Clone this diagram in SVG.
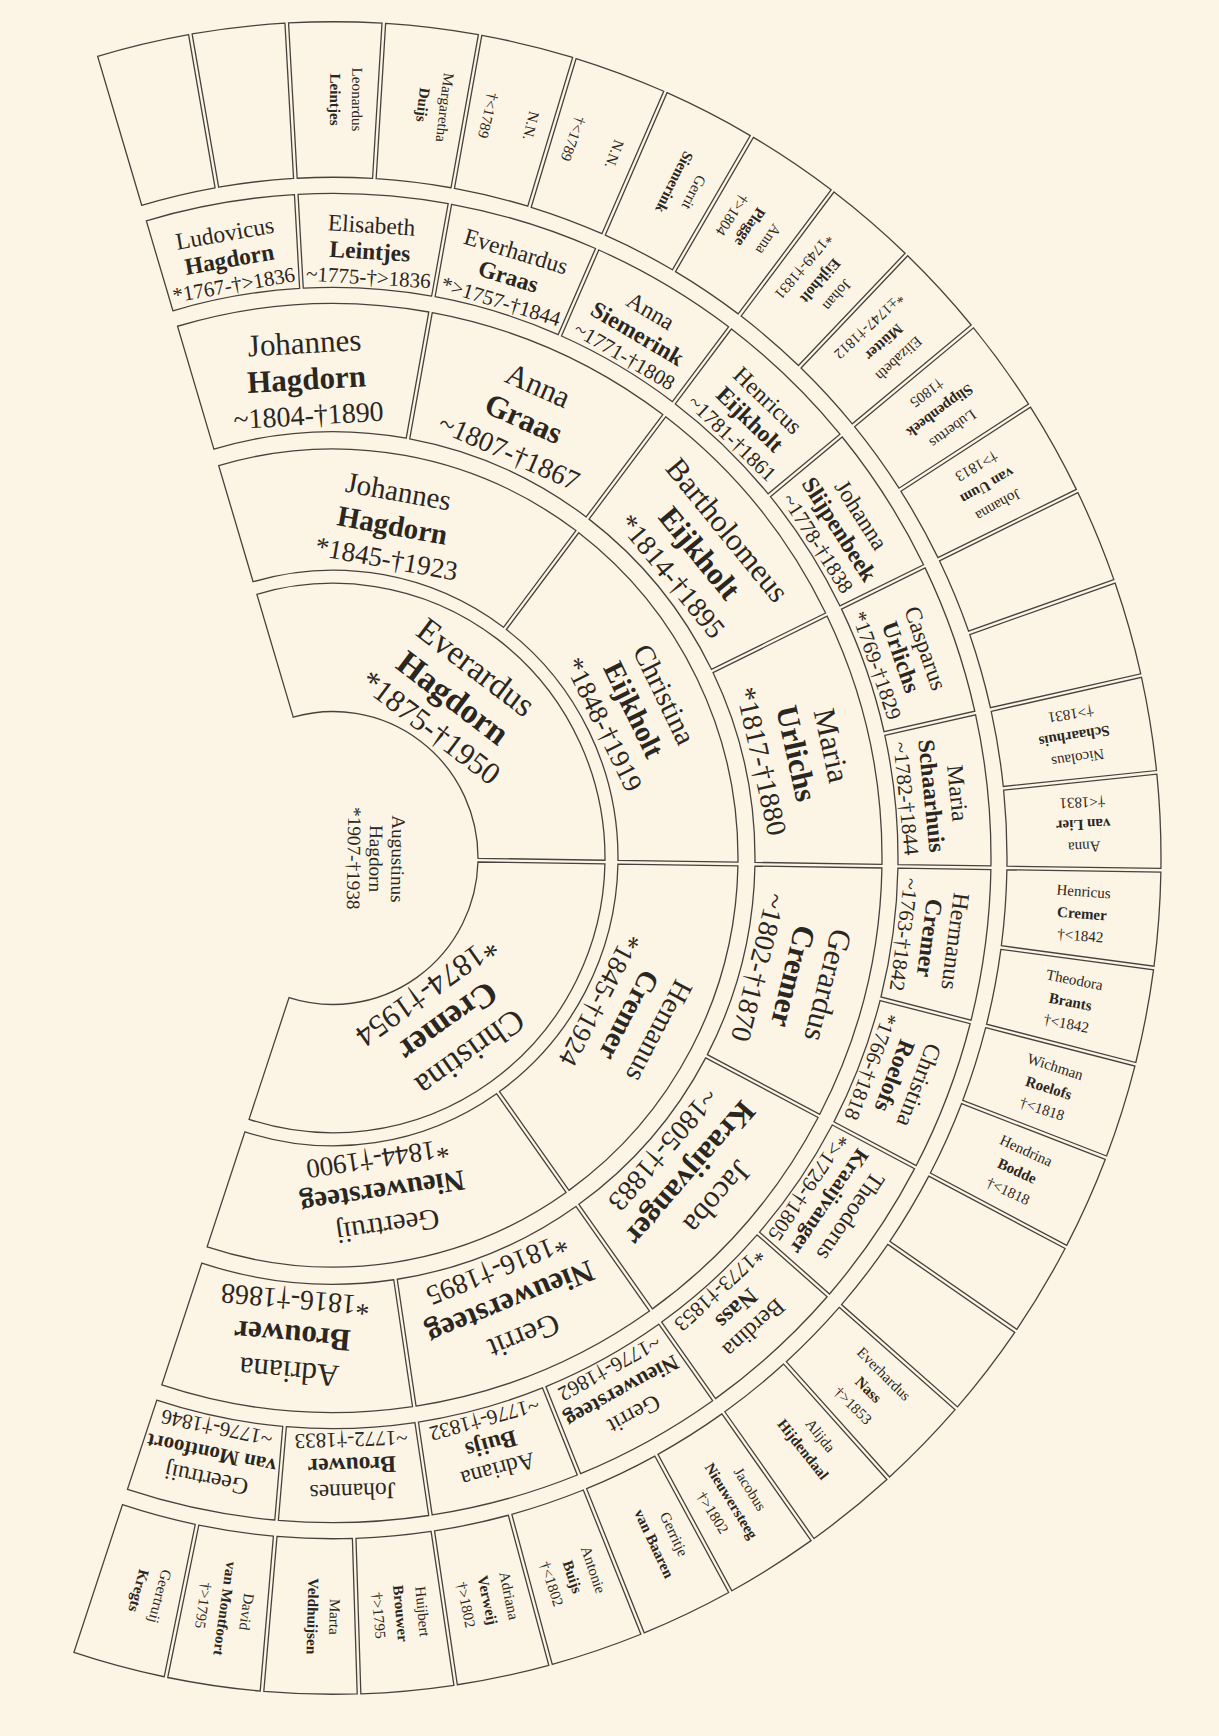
<svg xmlns="http://www.w3.org/2000/svg" width="1219" height="1736" viewBox="0 0 1219 1736">
<style>
.bg{fill:#fcf4e4}
.s{fill:none;stroke:#47423d;stroke-width:1.3}
text{font-family:"Liberation Serif","Times New Roman",serif;fill:#2a2622;text-anchor:middle;dominant-baseline:central}
.b{font-weight:bold}
.f0{font-size:19px}
.f1{font-size:34px}.d1{font-size:31px}
.f2{font-size:29px}.d2{font-size:27px}
.f3{font-size:31px}.d3{font-size:28px}
.f4{font-size:23.5px}.d4{font-size:21px}
.f5{font-size:15px}
</style>
<defs>
<path id="s1" d="M87.19,-115.86 L162.29,-218.29 A272,272 0 0 1 162.29,218.29 L87.19,115.86 A145,145 0 0 0 87.19,-115.86Z"/>
<path id="s2" d="M255.03,-127.22 L362.07,-181.47 A405,405 0 0 1 362.07,181.47 L255.03,127.22 A285,285 0 0 0 255.03,-127.22Z"/>
<path id="s3" d="M410.86,-96.31 L534.39,-125.83 A549,549 0 0 1 534.39,125.83 L410.86,96.31 A422,422 0 0 0 410.86,-96.31Z"/>
<path id="s4" d="M561.33,-64.31 L653.69,-75.20 A658,658 0 0 1 653.69,75.20 L561.33,64.31 A565,565 0 0 0 561.33,-64.31Z"/>
<path id="s5" d="M672.95,-37.70 L826.68,-46.72 A828,828 0 0 1 826.68,46.72 L672.95,37.70 A674,674 0 0 0 672.95,-37.70Z"/>
</defs>
<rect class="bg" x="0" y="0" width="1219" height="1736"/>
<g id="chart" transform="translate(333,858) rotate(0.85) scale(1,1.01)">

<g id="n0"><g transform="translate(43,0) rotate(90)"><text class="f0" y="-22">Augustinus</text><text class="f0">Hagdorn</text><text class="f0" y="22">*1907-†1938</text></g></g>

<g id="n1-0" transform="rotate(-53.75)"><use href="#s1" class="s"/><g transform="translate(199,0) rotate(90)"><text class="f1" y="-38">Everardus</text><text class="f1 b">Hagdorn</text><text class="d1" y="37">*1875-†1950</text></g></g>
<g id="n1-1" transform="rotate(53.75)"><use href="#s1" class="s"/><g transform="translate(199,0) rotate(90)"><text class="f1" y="-38">Christina</text><text class="f1 b">Cremer</text><text class="d1" y="37">*1874-†1954</text></g></g>

<g id="n2-0" transform="rotate(-80.63)"><use href="#s2" class="s"/><g transform="translate(335,0) rotate(90)"><text class="f2" y="-34">Johannes</text><text class="f2 b">Hagdorn</text><text class="d2" y="34">*1845-†1923</text></g></g>
<g id="n2-1" transform="rotate(-26.88)"><use href="#s2" class="s"/><g transform="translate(335,0) rotate(90)"><text class="f2" y="-34">Christina</text><text class="f2 b">Eijkholt</text><text class="d2" y="34">*1848-†1919</text></g></g>
<g id="n2-2" transform="rotate(26.88)"><use href="#s2" class="s"/><g transform="translate(335,0) rotate(90)"><text class="f2" y="-34">Hemanus</text><text class="f2 b">Cremer</text><text class="d2" y="34">*1845-†1924</text></g></g>
<g id="n2-3" transform="rotate(80.63)"><use href="#s2" class="s"/><g transform="translate(335,0) rotate(90)"><text class="f2" y="-34">Geertruij</text><text class="f2 b">Nieuwersteeg</text><text class="d2" y="34">*1844-†1900</text></g></g>

<g id="n3-0" transform="rotate(-94.06)"><use href="#s3" class="s"/><g transform="translate(475,0) rotate(90)"><text class="f3" y="-36">Johannes</text><text class="f3 b">Hagdorn</text><text class="d3" y="36">~1804-†1890</text></g></g>
<g id="n3-1" transform="rotate(-67.19)"><use href="#s3" class="s"/><g transform="translate(475,0) rotate(90)"><text class="f3" y="-36">Anna</text><text class="f3 b">Graas</text><text class="d3" y="36">~1807-†1867</text></g></g>
<g id="n3-2" transform="rotate(-40.31)"><use href="#s3" class="s"/><g transform="translate(475,0) rotate(90)"><text class="f3" y="-36">Bartholomeus</text><text class="f3 b">Eijkholt</text><text class="d3" y="36">*1814-†1895</text></g></g>
<g id="n3-3" transform="rotate(-13.44)"><use href="#s3" class="s"/><g transform="translate(475,0) rotate(90)"><text class="f3" y="-36">Maria</text><text class="f3 b">Urlichs</text><text class="d3" y="36">*1817-†1880</text></g></g>
<g id="n3-4" transform="rotate(13.44)"><use href="#s3" class="s"/><g transform="translate(475,0) rotate(90)"><text class="f3" y="-36">Gerardus</text><text class="f3 b">Cremer</text><text class="d3" y="36">~1802-†1870</text></g></g>
<g id="n3-5" transform="rotate(40.31)"><use href="#s3" class="s"/><g transform="translate(475,0) rotate(90)"><text class="f3" y="-36">Jacoba</text><text class="f3 b">Kraaijvanger</text><text class="d3" y="36">~1805-†1883</text></g></g>
<g id="n3-6" transform="rotate(67.19)"><use href="#s3" class="s"/><g transform="translate(475,0) rotate(90)"><text class="f3" y="-36">Gerrit</text><text class="f3 b">Nieuwersteeg</text><text class="d3" y="36">*1816-†1895</text></g></g>
<g id="n3-7" transform="rotate(94.06)"><use href="#s3" class="s"/><g transform="translate(475,0) rotate(90)"><text class="f3" y="-36">Adriana</text><text class="f3 b">Brouwer</text><text class="d3" y="36">*1816-†1868</text></g></g>

<g id="n4-0" transform="rotate(-100.78)"><use href="#s4" class="s"/><g transform="translate(602,0) rotate(90)"><text class="f4" y="-26">Ludovicus</text><text class="f4 b">Hagdorn</text><text class="d4" y="26">*1767-†&gt;1836</text></g></g>
<g id="n4-1" transform="rotate(-87.34)"><use href="#s4" class="s"/><g transform="translate(602,0) rotate(90)"><text class="f4" y="-26">Elisabeth</text><text class="f4 b">Leintjes</text><text class="d4" y="26">~1775-†&gt;1836</text></g></g>
<g id="n4-2" transform="rotate(-73.91)"><use href="#s4" class="s"/><g transform="translate(602,0) rotate(90)"><text class="f4" y="-26">Everhardus</text><text class="f4 b">Graas</text><text class="d4" y="26">*&gt;1757-†1844</text></g></g>
<g id="n4-3" transform="rotate(-60.47)"><use href="#s4" class="s"/><g transform="translate(602,0) rotate(90)"><text class="f4" y="-26">Anna</text><text class="f4 b">Siemerink</text><text class="d4" y="26">~1771-†1808</text></g></g>
<g id="n4-4" transform="rotate(-47.03)"><use href="#s4" class="s"/><g transform="translate(602,0) rotate(90)"><text class="f4" y="-26">Henricus</text><text class="f4 b">Eijkholt</text><text class="d4" y="26">~1781-†1861</text></g></g>
<g id="n4-5" transform="rotate(-33.59)"><use href="#s4" class="s"/><g transform="translate(602,0) rotate(90)"><text class="f4" y="-26">Johanna</text><text class="f4 b">Slijpenbeek</text><text class="d4" y="26">~1778-†1838</text></g></g>
<g id="n4-6" transform="rotate(-20.16)"><use href="#s4" class="s"/><g transform="translate(602,0) rotate(90)"><text class="f4" y="-26">Casparus</text><text class="f4 b">Urlichs</text><text class="d4" y="26">*1769-†1829</text></g></g>
<g id="n4-7" transform="rotate(-6.72)"><use href="#s4" class="s"/><g transform="translate(602,0) rotate(90)"><text class="f4" y="-26">Maria</text><text class="f4 b">Schaarhuis</text><text class="d4" y="26">~1782-†1844</text></g></g>
<g id="n4-8" transform="rotate(6.72)"><use href="#s4" class="s"/><g transform="translate(602,0) rotate(90)"><text class="f4" y="-26">Hermanus</text><text class="f4 b">Cremer</text><text class="d4" y="26">~1763-†1842</text></g></g>
<g id="n4-9" transform="rotate(20.16)"><use href="#s4" class="s"/><g transform="translate(602,0) rotate(90)"><text class="f4" y="-26">Christina</text><text class="f4 b">Roelofs</text><text class="d4" y="26">*1766-†1818</text></g></g>
<g id="n4-10" transform="rotate(33.59)"><use href="#s4" class="s"/><g transform="translate(602,0) rotate(90)"><text class="f4" y="-26">Theodorus</text><text class="f4 b" style="font-size:21px">Kraaijvanger</text><text class="d4" y="26">*&gt;1729-†1805</text></g></g>
<g id="n4-11" transform="rotate(47.03)"><use href="#s4" class="s"/><g transform="translate(602,0) rotate(90)"><text class="f4" y="-26">Berdina</text><text class="f4 b">Nass</text><text class="d4" y="26">*1773-†1853</text></g></g>
<g id="n4-12" transform="rotate(60.47)"><use href="#s4" class="s"/><g transform="translate(602,0) rotate(90)"><text class="f4" y="-26">Gerrit</text><text class="f4 b" style="font-size:22px">Nieuwersteeg</text><text class="d4" y="26">~1776-†1862</text></g></g>
<g id="n4-13" transform="rotate(73.91)"><use href="#s4" class="s"/><g transform="translate(602,0) rotate(90)"><text class="f4" y="-26">Adriana</text><text class="f4 b">Buijs</text><text class="d4" y="26">~1776-†1832</text></g></g>
<g id="n4-14" transform="rotate(87.34)"><use href="#s4" class="s"/><g transform="translate(602,0) rotate(90)"><text class="f4" y="-26">Johannes</text><text class="f4 b">Brouwer</text><text class="d4" y="26">~1772-†1833</text></g></g>
<g id="n4-15" transform="rotate(100.78)"><use href="#s4" class="s"/><g transform="translate(602,0) rotate(90)"><text class="f4" y="-26">Geertruij</text><text class="f4 b" style="font-size:21px">van Montfoort</text><text class="d4" y="26">~1776-†1846</text></g></g>

<g id="n5-0" transform="rotate(-104.14)"><use href="#s5" class="s"/></g>
<g id="n5-1" transform="rotate(-97.42)"><use href="#s5" class="s"/></g>
<g id="n5-2" transform="rotate(-90.70)"><use href="#s5" class="s"/><g transform="translate(751,0) rotate(180)"><text class="f5" y="-22">Leonardus</text><text class="f5 b">Leintjes</text></g></g>
<g id="n5-3" transform="rotate(-83.98)"><use href="#s5" class="s"/><g transform="translate(751,0) rotate(180)"><text class="f5" y="-22">Margaretha</text><text class="f5 b">Duijs</text></g></g>
<g id="n5-4" transform="rotate(-77.27)"><use href="#s5" class="s"/><g transform="translate(751,0) rotate(180)"><text class="f5" y="-22">N.N.</text><text class="f5" y="22">†&lt;1789</text></g></g>
<g id="n5-5" transform="rotate(-70.55)"><use href="#s5" class="s"/><g transform="translate(751,0) rotate(180)"><text class="f5" y="-22">N.N.</text><text class="f5" y="22">†&lt;1789</text></g></g>
<g id="n5-6" transform="rotate(-63.83)"><use href="#s5" class="s"/><g transform="translate(751,0) rotate(180)"><text class="f5" y="-22">Gerrit</text><text class="f5 b">Siemerink</text></g></g>
<g id="n5-7" transform="rotate(-57.11)"><use href="#s5" class="s"/><g transform="translate(751,0) rotate(180)"><text class="f5" y="-22">Anna</text><text class="f5 b">Plagge</text><text class="f5" y="22">†&gt;1804</text></g></g>
<g id="n5-8" transform="rotate(-50.39)"><use href="#s5" class="s"/><g transform="translate(751,0) rotate(180)"><text class="f5" y="-22">Johan</text><text class="f5 b">Eijkholt</text><text class="f5" y="22">*1749-†1831</text></g></g>
<g id="n5-9" transform="rotate(-43.67)"><use href="#s5" class="s"/><g transform="translate(751,0) rotate(180)"><text class="f5" y="-22">Elizabeth</text><text class="f5 b">Mütter</text><text class="f5" y="22">*±1747-†1812</text></g></g>
<g id="n5-10" transform="rotate(-36.95)"><use href="#s5" class="s"/><g transform="translate(751,0) rotate(180)"><text class="f5" y="-22">Lubertus</text><text class="f5 b">Slippenbeek</text><text class="f5" y="22">†1805</text></g></g>
<g id="n5-11" transform="rotate(-30.23)"><use href="#s5" class="s"/><g transform="translate(751,0) rotate(180)"><text class="f5" y="-22">Johanna</text><text class="f5 b">van Uum</text><text class="f5" y="22">†&gt;1813</text></g></g>
<g id="n5-12" transform="rotate(-23.52)"><use href="#s5" class="s"/></g>
<g id="n5-13" transform="rotate(-16.80)"><use href="#s5" class="s"/></g>
<g id="n5-14" transform="rotate(-10.08)"><use href="#s5" class="s"/><g transform="translate(751,0) rotate(180)"><text class="f5" y="-22">Nicolaus</text><text class="f5 b">Schaarhuis</text><text class="f5" y="22">†&gt;1831</text></g></g>
<g id="n5-15" transform="rotate(-3.36)"><use href="#s5" class="s"/><g transform="translate(751,0) rotate(180)"><text class="f5" y="-22">Anna</text><text class="f5 b">van Lier</text><text class="f5" y="22">†&lt;1831</text></g></g>
<g id="n5-16" transform="rotate(3.36)"><use href="#s5" class="s"/><g transform="translate(751,0)"><text class="f5" y="-22">Henricus</text><text class="f5 b">Cremer</text><text class="f5" y="22">†&lt;1842</text></g></g>
<g id="n5-17" transform="rotate(10.08)"><use href="#s5" class="s"/><g transform="translate(751,0)"><text class="f5" y="-22">Theodora</text><text class="f5 b">Brants</text><text class="f5" y="22">†&lt;1842</text></g></g>
<g id="n5-18" transform="rotate(16.80)"><use href="#s5" class="s"/><g transform="translate(751,0)"><text class="f5" y="-22">Wichman</text><text class="f5 b">Roelofs</text><text class="f5" y="22">†&lt;1818</text></g></g>
<g id="n5-19" transform="rotate(23.52)"><use href="#s5" class="s"/><g transform="translate(751,0)"><text class="f5" y="-22">Hendrina</text><text class="f5 b">Bodde</text><text class="f5" y="22">†&lt;1818</text></g></g>
<g id="n5-20" transform="rotate(30.23)"><use href="#s5" class="s"/></g>
<g id="n5-21" transform="rotate(36.95)"><use href="#s5" class="s"/></g>
<g id="n5-22" transform="rotate(43.67)"><use href="#s5" class="s"/><g transform="translate(751,0)"><text class="f5" y="-22">Everhardus</text><text class="f5 b">Nass</text><text class="f5" y="22">†&gt;1853</text></g></g>
<g id="n5-23" transform="rotate(50.39)"><use href="#s5" class="s"/><g transform="translate(751,0)"><text class="f5" y="-22">Alijda</text><text class="f5 b">Hijdendaal</text></g></g>
<g id="n5-24" transform="rotate(57.11)"><use href="#s5" class="s"/><g transform="translate(751,0)"><text class="f5" y="-22">Jacobus</text><text class="f5 b">Nieuwersteeg</text><text class="f5" y="22">†&gt;1802</text></g></g>
<g id="n5-25" transform="rotate(63.83)"><use href="#s5" class="s"/><g transform="translate(751,0)"><text class="f5" y="-22">Gerritje</text><text class="f5 b">van Baaren</text></g></g>
<g id="n5-26" transform="rotate(70.55)"><use href="#s5" class="s"/><g transform="translate(751,0)"><text class="f5" y="-22">Antonie</text><text class="f5 b">Buijs</text><text class="f5" y="22">†&lt;1802</text></g></g>
<g id="n5-27" transform="rotate(77.27)"><use href="#s5" class="s"/><g transform="translate(751,0)"><text class="f5" y="-22">Adriana</text><text class="f5 b">Verweij</text><text class="f5" y="22">†&gt;1802</text></g></g>
<g id="n5-28" transform="rotate(83.98)"><use href="#s5" class="s"/><g transform="translate(751,0)"><text class="f5" y="-22">Huijbert</text><text class="f5 b">Brouwer</text><text class="f5" y="22">†&gt;1795</text></g></g>
<g id="n5-29" transform="rotate(90.70)"><use href="#s5" class="s"/><g transform="translate(751,0)"><text class="f5" y="-22">Marta</text><text class="f5 b">Veldhuijsen</text></g></g>
<g id="n5-30" transform="rotate(97.42)"><use href="#s5" class="s"/><g transform="translate(751,0)"><text class="f5" y="-22">David</text><text class="f5 b">van Montfoort</text><text class="f5" y="22">†&gt;1795</text></g></g>
<g id="n5-31" transform="rotate(104.14)"><use href="#s5" class="s"/><g transform="translate(751,0)"><text class="f5" y="-22">Geertruij</text><text class="f5 b">Kregts</text></g></g>
</g>
</svg>
